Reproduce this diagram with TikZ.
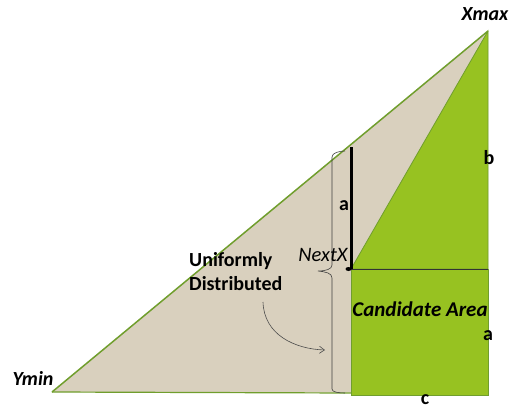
\documentclass[tikz,border=0pt]{standalone}
\usepackage{fontspec}
\setmainfont{Carlito}
\usetikzlibrary{arrows.meta}
\definecolor{linen}{RGB}{217,208,190}
\definecolor{leaf}{RGB}{151,194,33}
\definecolor{leafedge}{RGB}{112,158,45}
\begin{document}
\begin{tikzpicture}[x=1pt,y=-1pt,
  lbl/.style={font=\fontsize{20}{24}\selectfont\bfseries, inner sep=0pt},
  ilbl/.style={font=\fontsize{20}{24}\selectfont\bfseries\itshape, inner sep=0pt}]
\useasboundingbox (0,0) rectangle (520,410);
\coordinate (ymin) at (52,392);
\coordinate (xmax) at (488,31);
\coordinate (br) at (488,393);
\coordinate (bl) at (351,393);
\coordinate (nx) at (351,269);
\coordinate (rb) at (488,269);
\coordinate (rbr) at (488,395);
\coordinate (bartop) at (351,147);
% big beige triangle
\fill[linen] (ymin) -- (xmax) -- (br) -- cycle;
\draw[leafedge, line width=1.5pt] (ymin) -- (xmax);
\draw[leafedge, line width=1.2pt] (ymin) -- (bl);
% green parts
\filldraw[fill=leaf, draw=leafedge, line width=0.8pt] (nx) -- (xmax) -- (rb) -- cycle;
\filldraw[fill=leaf, draw=leafedge, line width=0.8pt] (nx) rectangle (rbr);
\draw[black!80, line width=0.8pt] (nx) -- (rb);
% thick bar and dot
\draw[black, line width=3pt] (bartop) -- (nx);
\fill[black] (348.5,269) ellipse (3 and 2);
% brace
\draw[black!75, line width=0.6pt] (345,151) .. controls (339,151) and (332,153) .. (332,157) -- (332,265) .. controls (332,269) and (326,271) .. (318,271) .. controls (326,272) and (332,273) .. (332,278) -- (332,389) .. controls (332,392) and (338,393) .. (345,393);
% texts
\node[ilbl] (txmax) at (485,14) {Xmax};
\node[ilbl] (tymin) at (33,378) {Ymin};
\node[lbl] (tb) at (489,158) {b};
\node[lbl] (ta1) at (344,206) {a};
\node[lbl] (ta2) at (488,336) {a};
\node[lbl] (tc) at (425,400) {c};
\node[inner sep=0pt, font=\fontsize{20.5}{24}\selectfont\itshape] (tnext) at (323,255) {NextX};
\node[lbl, align=left, anchor=west] (tuni) at (189,272) {Uniformly\\Distributed};
\node[ilbl, font=\fontsize{21}{25}\selectfont\bfseries\itshape] (tcand) at (420,309) {Candidate Area};
% arrow
\coordinate (arrs) at (263,302);
\coordinate (arre) at (325,350);
\draw[black!70, line width=0.6pt, -{Straight Barb[length=5pt,width=7pt]}] (arrs) .. controls (264,335) and (295,349) .. (arre);
\end{tikzpicture}
\end{document}
